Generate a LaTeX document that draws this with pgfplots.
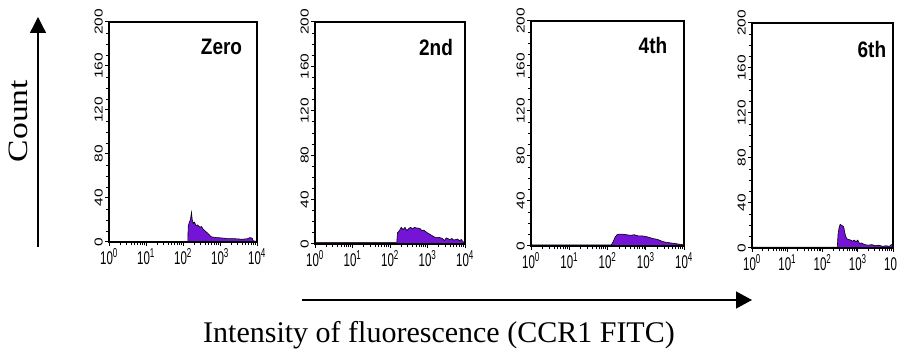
\documentclass[border=0pt]{standalone}
\usepackage{pgfplots}
\pgfplotsset{compat=1.18}
\usepackage{fontspec}
\setmainfont{Liberation Serif}
\newfontfamily\arial{Liberation Sans}
\usetikzlibrary{arrows.meta}
\definecolor{histpurple}{RGB}{115,20,215}

\pgfplotstableread{
x y
1 0.5
134.9 0.5
138 14
147.9 18
158.5 20
169.8 27
177.8 20
190.5 17
204.2 18
223.9 15
251.2 15.5
281.8 13.5
316.2 14
354.8 11.5
398.1 10
446.7 8.5
501.2 7
562.3 5
631 4.5
794.3 4
1000 3.8
1259 3.5
1585 3
2512 3
3981 2.5
5623 3
6310 4
7413 3.5
7943 1
10000 0.5
}\dataA

\pgfplotstableread{
x y
1 1.5
151.4 1.5
158.5 10
177.8 12
199.5 15
223.9 13
251.2 15
281.8 12
316.2 14
354.8 15
398.1 13.5
446.7 15
501.2 14.5
631 14
707.9 12
794.3 12.5
1000 10
1122 9
1259 8
1585 6
1995 6
2512 5
2818 3
3162 5.5
3981 4
4467 5
5012 3.5
6310 4.5
7079 3
7943 4
8913 2
10000 1
}\dataB

\pgfplotstableread{
x y
1 1
125.9 1
141.3 4
158.5 8
177.8 10
199.5 10.5
251.2 10.5
316.2 10
398.1 9.5
501.2 10
631 9
794.3 9
1000 8.5
1259 7.5
1585 6.5
1995 6
2512 4.5
3162 3.5
3981 3
5012 2.5
6310 2
7943 1.5
10000 1
}\dataC

\pgfplotstableread{
x y
1 0.8
263 0.8
275.4 12
295.1 18
316.2 21
354.8 20
398.1 19
426.6 14
457.1 10
501.2 8
631 7
707.9 6
794.3 7
891.3 5.5
1000 7
1122 4
1259 4.5
1585 3
1995 2.5
2512 3
3162 2
3981 2.5
5012 1.5
6310 2
7943 1.5
8913 3
10000 3
}\dataD

\pgfplotsset{
  every axis/.append style={
    scale only axis,
    xmin=1, xmax=10000, ymin=0, ymax=200,
    enlargelimits=false,
    xtick={1,10,100,1000,10000},
    xticklabels={
      \scalebox{1}[1.6]{10\textsuperscript{0}},
      \scalebox{1}[1.6]{10\textsuperscript{1}},
      \scalebox{1}[1.6]{10\textsuperscript{2}},
      \scalebox{1}[1.6]{10\textsuperscript{3}},
      \scalebox{1}[1.6]{10\textsuperscript{4}}},
    minor xtick={2,3,4,5,6,7,8,9,20,30,40,50,60,70,80,90,200,300,400,500,600,700,800,900,2000,3000,4000,5000,6000,7000,8000,9000},
    ytick={0,40,80,120,160,200},
    yticklabels={
      \scalebox{1.35}[1]{0},
      \scalebox{1.35}[1]{40},
      \scalebox{1.35}[1]{80},
      \scalebox{1.35}[1]{120},
      \scalebox{1.35}[1]{160},
      \scalebox{1.35}[1]{200}},
    minor ytick={10,20,30,50,60,70,90,100,110,130,140,150,170,180,190},
    tick align=outside,
    xtick pos=bottom, ytick pos=left,
    major tick length=4pt, minor tick length=3.5pt,
    tick style={black, line width=1pt},
    minor tick style={black, line width=0.9pt},
    axis line style={black, line width=1.3pt},
    yticklabel style={rotate=90, font=\arial\fontsize{11.5}{11.5}\selectfont, inner sep=2pt},
    xticklabel style={font=\arial\fontsize{11.5}{11.5}\selectfont, inner sep=2pt},
    axis on top,
  },
}
\tikzset{
  myhist/.style={fill=histpurple, draw=black, line width=0.6pt},
  plab/.style={font=\arial\bfseries\fontsize{20}{20}\selectfont},
}

\begin{document}
\begin{tikzpicture}
\useasboundingbox (0pt,0pt) rectangle (897pt,352pt);

\begin{semilogxaxis}[at={(109pt,110pt)}, anchor=south west, width=148pt, height=220pt]
\addplot[myhist] table {\dataA} \closedcycle;
\node[plab] at (rel axis cs:0.76,0.886) {\scalebox{0.95}[1.12]{Zero}};
\end{semilogxaxis}

\begin{semilogxaxis}[at={(315pt,108pt)}, anchor=south west, width=150pt, height=222pt]
\addplot[myhist] table {\dataB} \closedcycle;
\node[plab] at (rel axis cs:0.807,0.887) {\scalebox{0.95}[1.12]{2nd}};
\end{semilogxaxis}

\begin{semilogxaxis}[at={(531pt,106pt)}, anchor=south west, width=153pt, height=225pt]
\addplot[myhist] table {\dataC} \closedcycle;
\node[plab] at (rel axis cs:0.797,0.893) {\scalebox{0.95}[1.12]{4th}};
\end{semilogxaxis}

\begin{semilogxaxis}[at={(752pt,104pt)}, anchor=south west, width=141pt, height=225pt]
\addplot[myhist] table {\dataD} \closedcycle;
\node[plab] at (rel axis cs:0.85,0.88) {\scalebox{0.95}[1.12]{6th}};
\end{semilogxaxis}

% Count arrow and label
\draw[line width=1.3pt, -{Triangle[length=16pt,width=16pt]}] (38pt,105pt) -- (38pt,335pt);
\node[font=\fontsize{28}{28}\selectfont, rotate=90] at (18pt,231pt) {\scalebox{1.2}[1]{Count}};

% Intensity arrow and label
\draw[line width=1.3pt, -{Triangle[length=16pt,width=17pt]}] (302pt,52pt) -- (752pt,52pt);
\node[font=\fontsize{30}{30}\selectfont, anchor=base] at (439pt,9pt) {Intensity of fluorescence (CCR1 FITC)};
\end{tikzpicture}
\end{document}
